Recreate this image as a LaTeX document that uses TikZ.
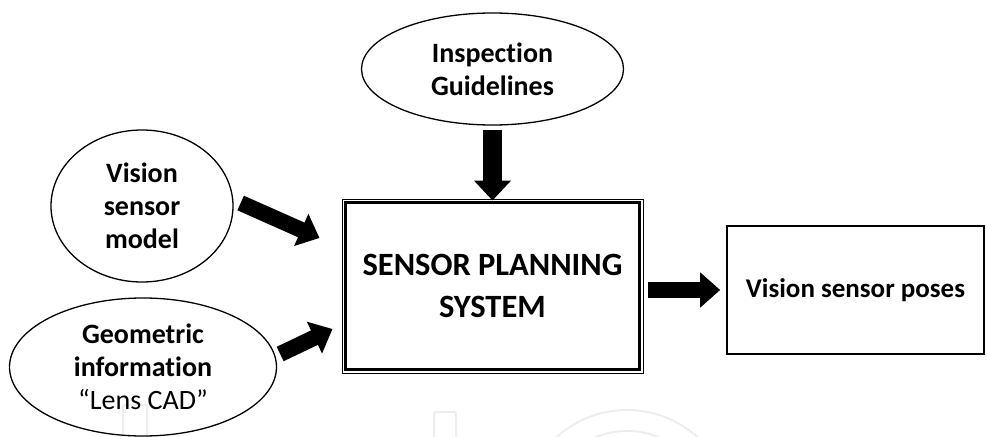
\documentclass[tikz,border=0pt]{standalone}
\usepackage{fontspec}
\setmainfont{Carlito}[Ligatures=NoCommon]
\usetikzlibrary{arrows.meta,shapes.geometric,calc}
\begin{document}
\begin{tikzpicture}[x=1pt,y=1pt,
  oval/.style={draw, ellipse, line width=1.3pt, inner sep=0pt, align=center,
    font=\fontsize{28}{33}\selectfont\bfseries},
  plainbox/.style={draw, rectangle, line width=1.6pt, inner sep=0pt, align=center},
  blockarrow/.style={line width=16pt, -{Triangle[length=20pt,width=34pt]}},
  faint/.style={draw=black!7, line width=2pt}
]
\useasboundingbox (0,0) rectangle (987,-436);

% faint background logo outlines
\draw[faint, rounded corners=2pt] (123,-445) -- (123,-405) -- (147,-405) -- (147,-445);
\draw[faint, rounded corners=2pt] (434,-445) -- (434,-412) -- (456,-412) -- (456,-445);
\draw[faint] (627,-515) circle[radius=105];
\draw[faint] (627,-515) circle[radius=84];

% inputs
\node[oval, minimum width=262, minimum height=112] (insp) at (492.5,-69)
  {Inspection\\Guidelines};
\node[oval, minimum width=182, minimum height=152] (vis) at (142,-206)
  {Vision\\sensor\\model};
\node[oval, minimum width=267, minimum height=138] (geo) at (143,-367)
  {Geometric\\information\\{\mdseries “Lens CAD”}};

% central planning block with a double frame
\node[draw, rectangle, line width=1pt, minimum width=301, minimum height=174,
  inner sep=0pt, align=center, font=\fontsize{32.5}{42}\selectfont\bfseries]
  (main) at (492.5,-286) {SENSOR PLANNING\\SYSTEM};
\draw[line width=3pt]
  ([shift={(4,-4)}]main.north west) rectangle ([shift={(-4,4)}]main.south east);

% output
\node[plainbox, minimum width=257, minimum height=128,
  font=\fontsize{27}{33}\selectfont\bfseries] (poses) at (855.5,-290)
  {Vision sensor poses};

% connectors
\draw[blockarrow, line width=19pt, -{Triangle[length=20pt,width=36pt]}]
  ([yshift=-4pt]insp.south) -- ([yshift=-2pt]main.north);
\draw[blockarrow] ([shift={(7,3)}]vis.east) -- ([shift={(-22,48)}]main.west);
\draw[blockarrow] ([shift={(3,13)}]geo.east) -- ([shift={(-9,-43)}]main.west);
\draw[blockarrow] ([shift={(4,-4)}]main.east) -- ([xshift=-6pt]poses.west);
\end{tikzpicture}
\end{document}
